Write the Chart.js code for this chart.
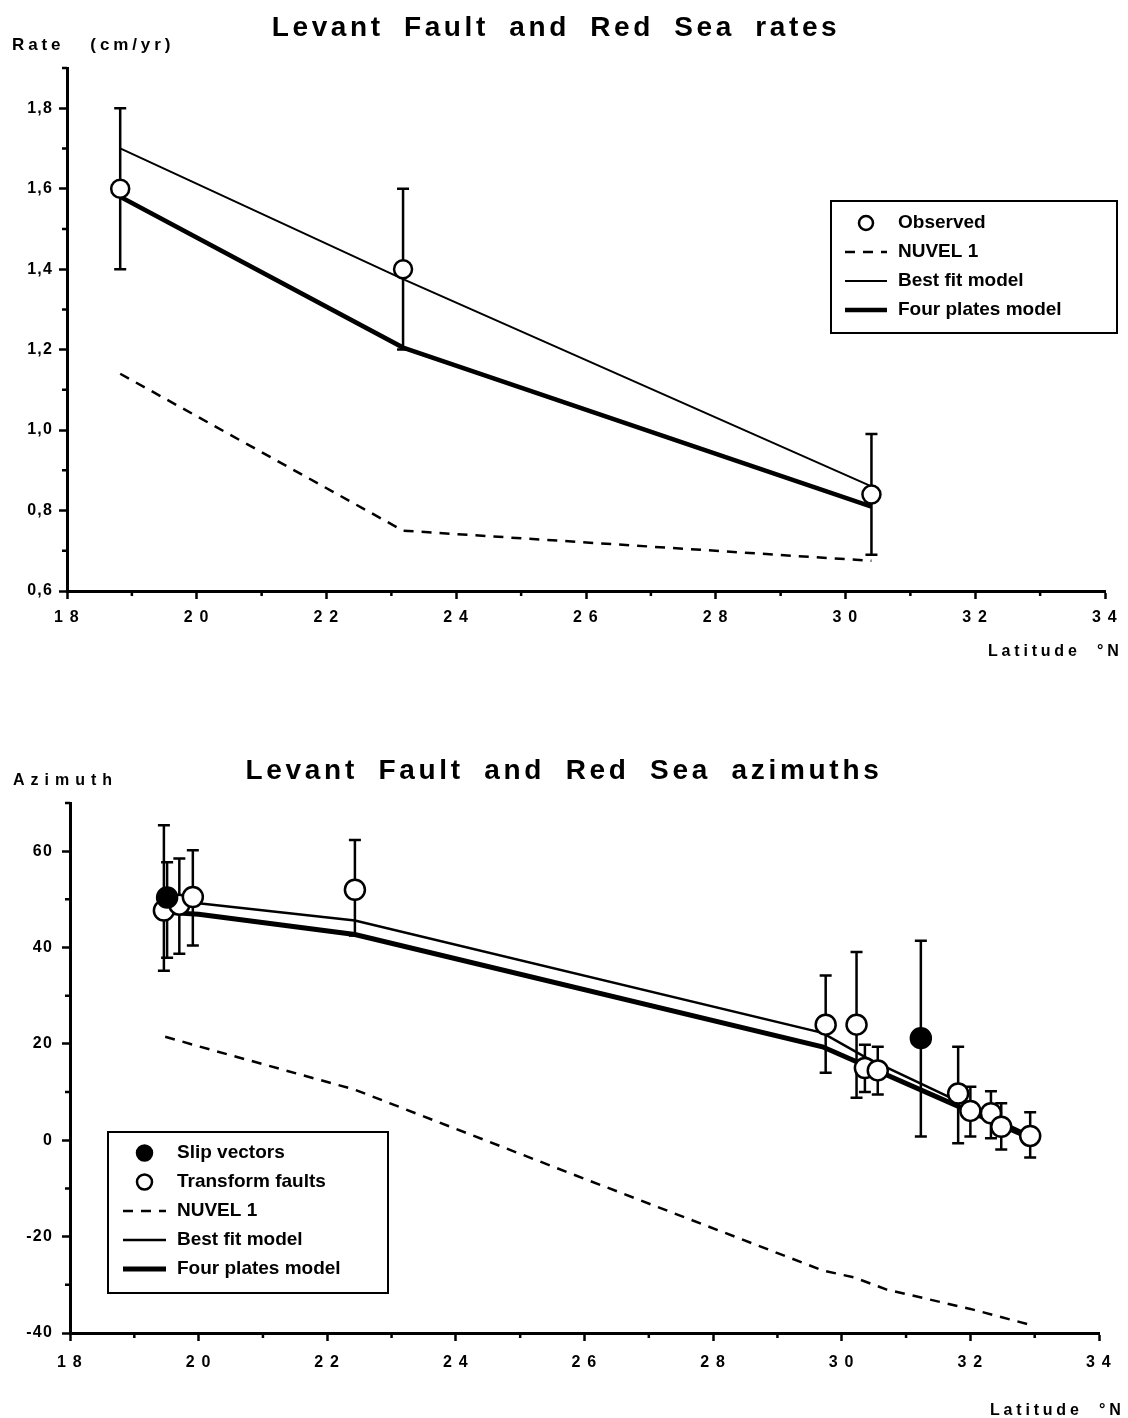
<!DOCTYPE html>
<html>
<head>
<meta charset="utf-8">
<script src="https://cdn.jsdelivr.net/npm/chart.js@4.4.1/dist/chart.umd.min.js"></script>
<style>
  body { margin: 0; background: #fff; }
  #page { position: relative; width: 1128px; height: 1418px; overflow: hidden;
          font-family: "Liberation Sans", Arial, sans-serif; font-weight: bold; color: #000; }
  .cv { position: absolute; left: 0; }
  .txt { position: absolute; white-space: pre; line-height: 1; }
</style>
</head>
<body>
<div id="page">
  <canvas id="rates" class="cv" style="top:0" width="1128" height="700"></canvas>
  <canvas id="azimuths" class="cv" style="top:700px" width="1128" height="718"></canvas>

  <div class="txt" style="left:0;width:1112px;text-align:center;top:13px;font-size:28px;letter-spacing:3.6px;word-spacing:9px">Levant Fault and Red Sea rates</div>
  <div class="txt" style="left:12px;top:36px;font-size:17px;letter-spacing:3.9px">Rate   (cm/yr)</div>
  <div class="txt" style="left:988px;top:643px;font-size:16px;letter-spacing:3.8px">Latitude  °N</div>

  <div class="txt" style="left:0;width:1128px;text-align:center;top:756px;font-size:28px;letter-spacing:3.7px;word-spacing:9px">Levant Fault and Red Sea azimuths</div>
  <div class="txt" style="left:13px;top:772px;font-size:16px;letter-spacing:6px">Azimuth</div>
  <div class="txt" style="left:990px;top:1402px;font-size:16px;letter-spacing:3.8px">Latitude  °N</div>
</div>

<script>
// shared latitude axis
const latTicks = [18, 20, 22, 24, 26, 28, 30, 32, 34];
const latMinor = [19, 21, 23, 25, 27, 29, 31, 33];

// rates (cm/yr)
const rateLat = [18.82, 23.18, 30.40];
const rateObs = [1.60, 1.40, 0.84];
const rateLow = [1.40, 1.20, 0.69];
const rateHigh = [1.80, 1.60, 0.99];
const rateNuvel = [1.14, 0.75, 0.675];
const rateBest = [1.70, 1.375, 0.86];
const rateFour = [1.58, 1.205, 0.81];
const rateTicks = [0.6, 0.8, 1.0, 1.2, 1.4, 1.6, 1.8];
const rateMinor = [0.7, 0.9, 1.1, 1.3, 1.5, 1.7, 1.9];

// azimuths (degrees)
const slipLat = [19.51, 31.23];
const slipAz = [50.4, 21.2];
const slipLow = [37.9, 0.8];
const slipHigh = [57.7, 41.4];

const tfLat = [19.46, 19.70, 19.91, 22.43, 29.75, 30.23, 30.36, 30.56, 31.81, 32.00, 32.32, 32.48, 32.93];
const tfAz = [47.7, 48.9, 50.5, 52.0, 24.0, 24.0, 15.0, 14.5, 9.7, 6.1, 5.6, 2.8, 0.9];
const tfLow = [35.2, 38.7, 40.4, 42.5, 14.0, 8.8, 10.0, 9.5, -0.6, 0.8, 0.4, -1.9, -3.6];
const tfHigh = [65.4, 58.5, 60.2, 62.3, 34.2, 39.1, 19.8, 19.4, 19.4, 11.1, 10.2, 7.7, 5.8];

const nuvelLat = [19.48, 20.0, 22.43, 26.0, 29.7, 30.2, 30.7, 32.0, 32.93];
const nuvelAz = [21.5, 19.5, 10.5, -8.0, -27.0, -28.5, -31.0, -35.0, -38.3];
const bestLat = [19.5, 20.0, 22.43, 29.7, 30.4, 32.93];
const bestAz = [49.8, 49.2, 45.6, 22.3, 17.0, 1.0];
const fourLat = [19.5, 20.0, 22.43, 29.7, 30.4, 32.93];
const fourAz = [47.3, 46.9, 42.7, 19.4, 15.3, 0.5];

const azTicks = [-40, -20, 0, 20, 40, 60];
const azMinor = [-30, -10, 10, 30, 50, 70];

function pts(xs, ys) {
    return xs.map(function (x, i) { return { x: x, y: ys[i] }; });
}

const tickFont = { family: '"Liberation Sans", Arial, sans-serif', size: 16, weight: 'bold' };

// letter spacing for the axis labels only
const spacing = {
    id: 'spacing',
    beforeDraw(chart) { chart.ctx.letterSpacing = '1.2px'; },
    beforeDatasetsDraw(chart) { chart.ctx.letterSpacing = '0px'; }
};

const errorBars = {
    id: 'errorBars',
    beforeDatasetsDraw(chart, args, opts) {
        const ctx = chart.ctx, xs = chart.scales.x, ys = chart.scales.y;
        ctx.save();
        ctx.strokeStyle = '#000';
        ctx.lineWidth = opts.width;
        opts.sets.forEach(function (s) {
            s.lat.forEach(function (lat, i) {
                const px = xs.getPixelForValue(lat);
                const top = ys.getPixelForValue(s.high[i]);
                const bot = ys.getPixelForValue(s.low[i]);
                ctx.beginPath();
                ctx.moveTo(px, top); ctx.lineTo(px, bot);
                ctx.moveTo(px - opts.cap, top); ctx.lineTo(px + opts.cap, top);
                ctx.moveTo(px - opts.cap, bot); ctx.lineTo(px + opts.cap, bot);
                ctx.stroke();
            });
        });
        ctx.restore();
    }
};

const minorTicks = {
    id: 'minorTicks',
    afterDraw(chart, args, opts) {
        const ctx = chart.ctx, area = chart.chartArea;
        ctx.save();
        ctx.strokeStyle = '#000';
        ctx.lineWidth = 2.5;
        ctx.beginPath();
        opts.x.forEach(function (v) {
            const px = chart.scales.x.getPixelForValue(v);
            ctx.moveTo(px, area.bottom); ctx.lineTo(px, area.bottom + opts.len);
        });
        opts.y.forEach(function (v) {
            const py = chart.scales.y.getPixelForValue(v);
            ctx.moveTo(area.left, py); ctx.lineTo(area.left - opts.len, py);
        });
        ctx.stroke();
        ctx.restore();
    }
};

const boxLegend = {
    id: 'boxLegend',
    afterDraw(chart, args, opts) {
        const ctx = chart.ctx;
        ctx.save();
        ctx.letterSpacing = '0px';
        ctx.strokeStyle = '#000';
        ctx.lineWidth = 2;
        ctx.strokeRect(opts.left, opts.top, opts.width, opts.height);
        ctx.font = 'bold 19px "Liberation Sans", Arial, sans-serif';
        ctx.textBaseline = 'middle';
        chart.data.datasets.forEach(function (ds, i) {
            const y = opts.top + opts.firstRow + i * opts.rowGap;
            ctx.strokeStyle = '#000';
            if (!ds.showLine) {
                ctx.beginPath();
                ctx.arc(opts.sampleX + opts.sampleW / 2, y, opts.radius, 0, 2 * Math.PI);
                ctx.fillStyle = ds.pointBackgroundColor;
                ctx.fill();
                ctx.lineWidth = 2.5;
                ctx.stroke();
            } else {
                ctx.beginPath();
                ctx.setLineDash(ds.borderDash || []);
                ctx.lineWidth = ds.borderWidth;
                ctx.moveTo(opts.sampleX, y);
                ctx.lineTo(opts.sampleX + opts.sampleW, y);
                ctx.stroke();
                ctx.setLineDash([]);
            }
            ctx.fillStyle = '#000';
            ctx.fillText(ds.label, opts.textX, y);
        });
        ctx.restore();
    }
};

function latAxis(height, pad) {
    return {
        type: 'linear', min: 18, max: 34,
        afterBuildTicks: function (s) { s.ticks = latTicks.map(function (v) { return { value: v }; }); },
        afterFit: function (s) { s.height = height; },
        ticks: {
            callback: function (v) { return String(v).split('').join(' '); },
            font: tickFont, color: '#000', padding: pad, maxRotation: 0, autoSkip: false
        },
        grid: { drawOnChartArea: false, tickLength: 8, tickWidth: 2.5, tickColor: '#000' },
        border: { color: '#000', width: 3 }
    };
}

new Chart(document.getElementById('rates'), {
    type: 'scatter',
    data: {
        datasets: [
            {
                label: 'Observed', data: pts(rateLat, rateObs), showLine: false,
                pointRadius: 9, pointBackgroundColor: '#fff', pointBorderColor: '#000', pointBorderWidth: 2.5
            },
            {
                label: 'NUVEL 1', data: pts(rateLat, rateNuvel), showLine: true,
                borderColor: '#000', borderWidth: 2.5, borderDash: [10, 8], pointRadius: 0
            },
            {
                label: 'Best fit model', data: pts(rateLat, rateBest), showLine: true,
                borderColor: '#000', borderWidth: 2, pointRadius: 0
            },
            {
                label: 'Four plates model', data: pts(rateLat, rateFour), showLine: true,
                borderColor: '#000', borderWidth: 4.5, pointRadius: 0
            }
        ]
    },
    options: {
        responsive: false,
        animation: false,
        events: [],
        layout: { autoPadding: false, padding: { top: 68, right: 23, left: 0, bottom: 0 } },
        scales: {
            x: latAxis(109, 9),
            y: {
                type: 'linear', min: 0.6, max: 1.9,
                afterBuildTicks: function (s) { s.ticks = rateTicks.map(function (v) { return { value: v }; }); },
                afterFit: function (s) { s.width = 67; },
                ticks: {
                    callback: function (v) { return v.toFixed(1).replace('.', ','); },
                    font: tickFont, color: '#000', padding: 6, autoSkip: false
                },
                grid: { drawOnChartArea: false, tickLength: 8, tickWidth: 2.5, tickColor: '#000' },
                border: { color: '#000', width: 3 }
            }
        },
        plugins: {
            legend: { display: false },
            tooltip: { enabled: false },
            errorBars: { sets: [{ lat: rateLat, low: rateLow, high: rateHigh }], width: 2.5, cap: 6 },
            minorTicks: { x: latMinor, y: rateMinor, len: 5 },
            boxLegend: { left: 831, top: 201, width: 286, height: 132, firstRow: 22, rowGap: 29,
                         sampleX: 845, sampleW: 42, radius: 7, textX: 898 }
        }
    },
    plugins: [spacing, errorBars, minorTicks, boxLegend]
});

new Chart(document.getElementById('azimuths'), {
    type: 'scatter',
    data: {
        datasets: [
            {
                label: 'Slip vectors', data: pts(slipLat, slipAz), showLine: false,
                pointRadius: 10, pointBackgroundColor: '#000', pointBorderColor: '#000', pointBorderWidth: 2.5
            },
            {
                label: 'Transform faults', data: pts(tfLat, tfAz), showLine: false,
                pointRadius: 10, pointBackgroundColor: '#fff', pointBorderColor: '#000', pointBorderWidth: 2.5
            },
            {
                label: 'NUVEL 1', data: pts(nuvelLat, nuvelAz), showLine: true,
                borderColor: '#000', borderWidth: 2.5, borderDash: [10, 8], pointRadius: 0
            },
            {
                label: 'Best fit model', data: pts(bestLat, bestAz), showLine: true,
                borderColor: '#000', borderWidth: 2.5, pointRadius: 0
            },
            {
                label: 'Four plates model', data: pts(fourLat, fourAz), showLine: true,
                borderColor: '#000', borderWidth: 5, pointRadius: 0
            }
        ]
    },
    options: {
        responsive: false,
        animation: false,
        events: [],
        layout: { autoPadding: false, padding: { top: 103, right: 29, left: 0, bottom: 0 } },
        scales: {
            x: latAxis(85, 12),
            y: {
                type: 'linear', min: -40, max: 70,
                afterBuildTicks: function (s) { s.ticks = azTicks.map(function (v) { return { value: v }; }); },
                afterFit: function (s) { s.width = 70; },
                ticks: { font: tickFont, color: '#000', padding: 9, autoSkip: false },
                grid: { drawOnChartArea: false, tickLength: 8, tickWidth: 2.5, tickColor: '#000' },
                border: { color: '#000', width: 3 }
            }
        },
        plugins: {
            legend: { display: false },
            tooltip: { enabled: false },
            errorBars: {
                sets: [
                    { lat: slipLat, low: slipLow, high: slipHigh },
                    { lat: tfLat, low: tfLow, high: tfHigh }
                ],
                width: 2.5, cap: 6
            },
            minorTicks: { x: latMinor, y: azMinor, len: 5 },
            boxLegend: { left: 108, top: 432, width: 280, height: 161, firstRow: 21, rowGap: 29,
                         sampleX: 123, sampleW: 43, radius: 7.5, textX: 177 }
        }
    },
    plugins: [spacing, errorBars, minorTicks, boxLegend]
});
</script>
</body>
</html>
